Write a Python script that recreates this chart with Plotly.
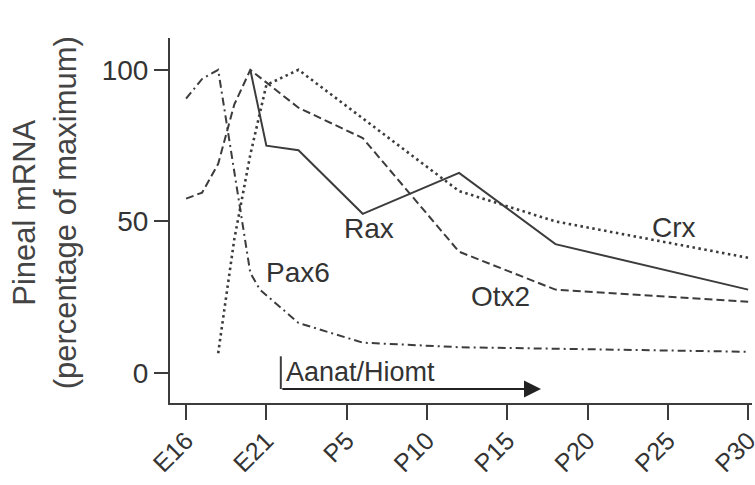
import plotly.graph_objects as go

# Age axis: days after E16 (E16=0, E21=5, P5=10, ... P30=35)
tick_vals = [0, 5, 10, 15, 20, 25, 30, 35]
tick_labels = ["E16", "E21", "P5", "P10", "P15", "P20", "P25", "P30"]

rax_x = [4, 5, 7, 11, 17, 23, 35]
rax_y = [100, 75, 73.5, 52.5, 66, 42.5, 27.5]

otx2_x = [0, 1, 2, 3, 4, 7, 11, 17, 23, 35]
otx2_y = [57.5, 59.5, 69, 88.5, 100, 87.5, 77.5, 40, 27.5, 23.5]

crx_x = [2, 3, 4, 5, 7, 17, 23, 35]
crx_y = [6.5, 44, 72, 95, 100, 60, 50, 38]

pax6_x = [0, 1, 2, 4, 4.6, 7, 11, 17, 23, 35]
pax6_y = [90.5, 97, 100, 33, 27.5, 16.5, 10, 8.5, 8, 7]

aanat_start = 5.9
aanat_end = 22.1

FONT = "Arial, Liberation Sans, sans-serif"
LC = "#3c3c3c"

fig = go.Figure()
fig.add_trace(go.Scatter(x=rax_x, y=rax_y, mode="lines",
                         line=dict(color=LC, width=2, dash="solid")))
fig.add_trace(go.Scatter(x=otx2_x, y=otx2_y, mode="lines",
                         line=dict(color=LC, width=2, dash="8px,4px")))
fig.add_trace(go.Scatter(x=crx_x, y=crx_y, mode="lines",
                         line=dict(color=LC, width=2.6, dash="2.5px,3.5px")))
fig.add_trace(go.Scatter(x=pax6_x, y=pax6_y, mode="lines",
                         line=dict(color=LC, width=2, dash="8px,4px,2px,4px")))

labels = [("Rax", 11.4, 47.5), ("Pax6", 6.95, 33), ("Otx2", 19.6, 25.3), ("Crx", 30.4, 48)]
for txt, lx, ly in labels:
    fig.add_annotation(x=lx, y=ly, text=txt, showarrow=False,
                       font=dict(family=FONT, size=28, color="#333"),
                       xanchor="center", yanchor="middle")

# Aanat/Hiomt onset bar and arrow
fig.add_shape(type="line", x0=aanat_start, x1=aanat_start, y0=-5.3, y1=5.5,
              line=dict(color=LC, width=2))
fig.add_annotation(x=aanat_end, y=-5.3, ax=aanat_start, ay=-5.3,
                   xref="x", yref="y", axref="x", ayref="y",
                   showarrow=True, arrowhead=2, arrowsize=1.7, arrowwidth=2,
                   arrowcolor="#222", text="")
fig.add_annotation(x=aanat_start + 0.2, y=0.4, text="Aanat/Hiomt", showarrow=False,
                   xanchor="left", yanchor="middle",
                   font=dict(family=FONT, size=27, color="#333"))

# y-axis title
fig.add_annotation(xref="paper", yref="paper", x=-0.215, y=0.522,
                   text="Pineal mRNA<br>(percentage of maximum)", showarrow=False,
                   textangle=-90, font=dict(family=FONT, size=31, color="#444"),
                   xanchor="center", yanchor="middle")

fig.update_layout(
    width=755, height=485,
    margin=dict(l=170, r=3, t=38, b=82),
    paper_bgcolor="white", plot_bgcolor="white",
    showlegend=False,
    font=dict(family=FONT, size=28, color="#333"),
)
fig.update_xaxes(range=[-1.0, 35.24], tickmode="array", tickvals=tick_vals,
                 ticktext=tick_labels, tickangle=-45, ticks="outside", ticklen=15,
                 tickwidth=2, tickcolor=LC, showline=True, linecolor=LC, linewidth=2,
                 showgrid=False, zeroline=False, ticklabeloverflow="allow",
                 automargin=False, ticklabelstandoff=-4,
                 tickfont=dict(family=FONT, size=25, color="#333"))
fig.update_yaxes(range=[-9.9, 110.5], tickmode="array", tickvals=[0, 50, 100],
                 ticks="outside", ticklen=14, tickwidth=2, tickcolor=LC,
                 showline=True, linecolor=LC, linewidth=2, showgrid=False,
                 zeroline=False, automargin=False,
                 tickfont=dict(family=FONT, size=28, color="#333"))

post = (
    "document.body.style.margin='0';"
    "document.documentElement.style.overflow='hidden';"
    "document.body.style.overflow='hidden';"
)
fig.write_html("out.html", config={"displayModeBar": False}, post_script=post)
